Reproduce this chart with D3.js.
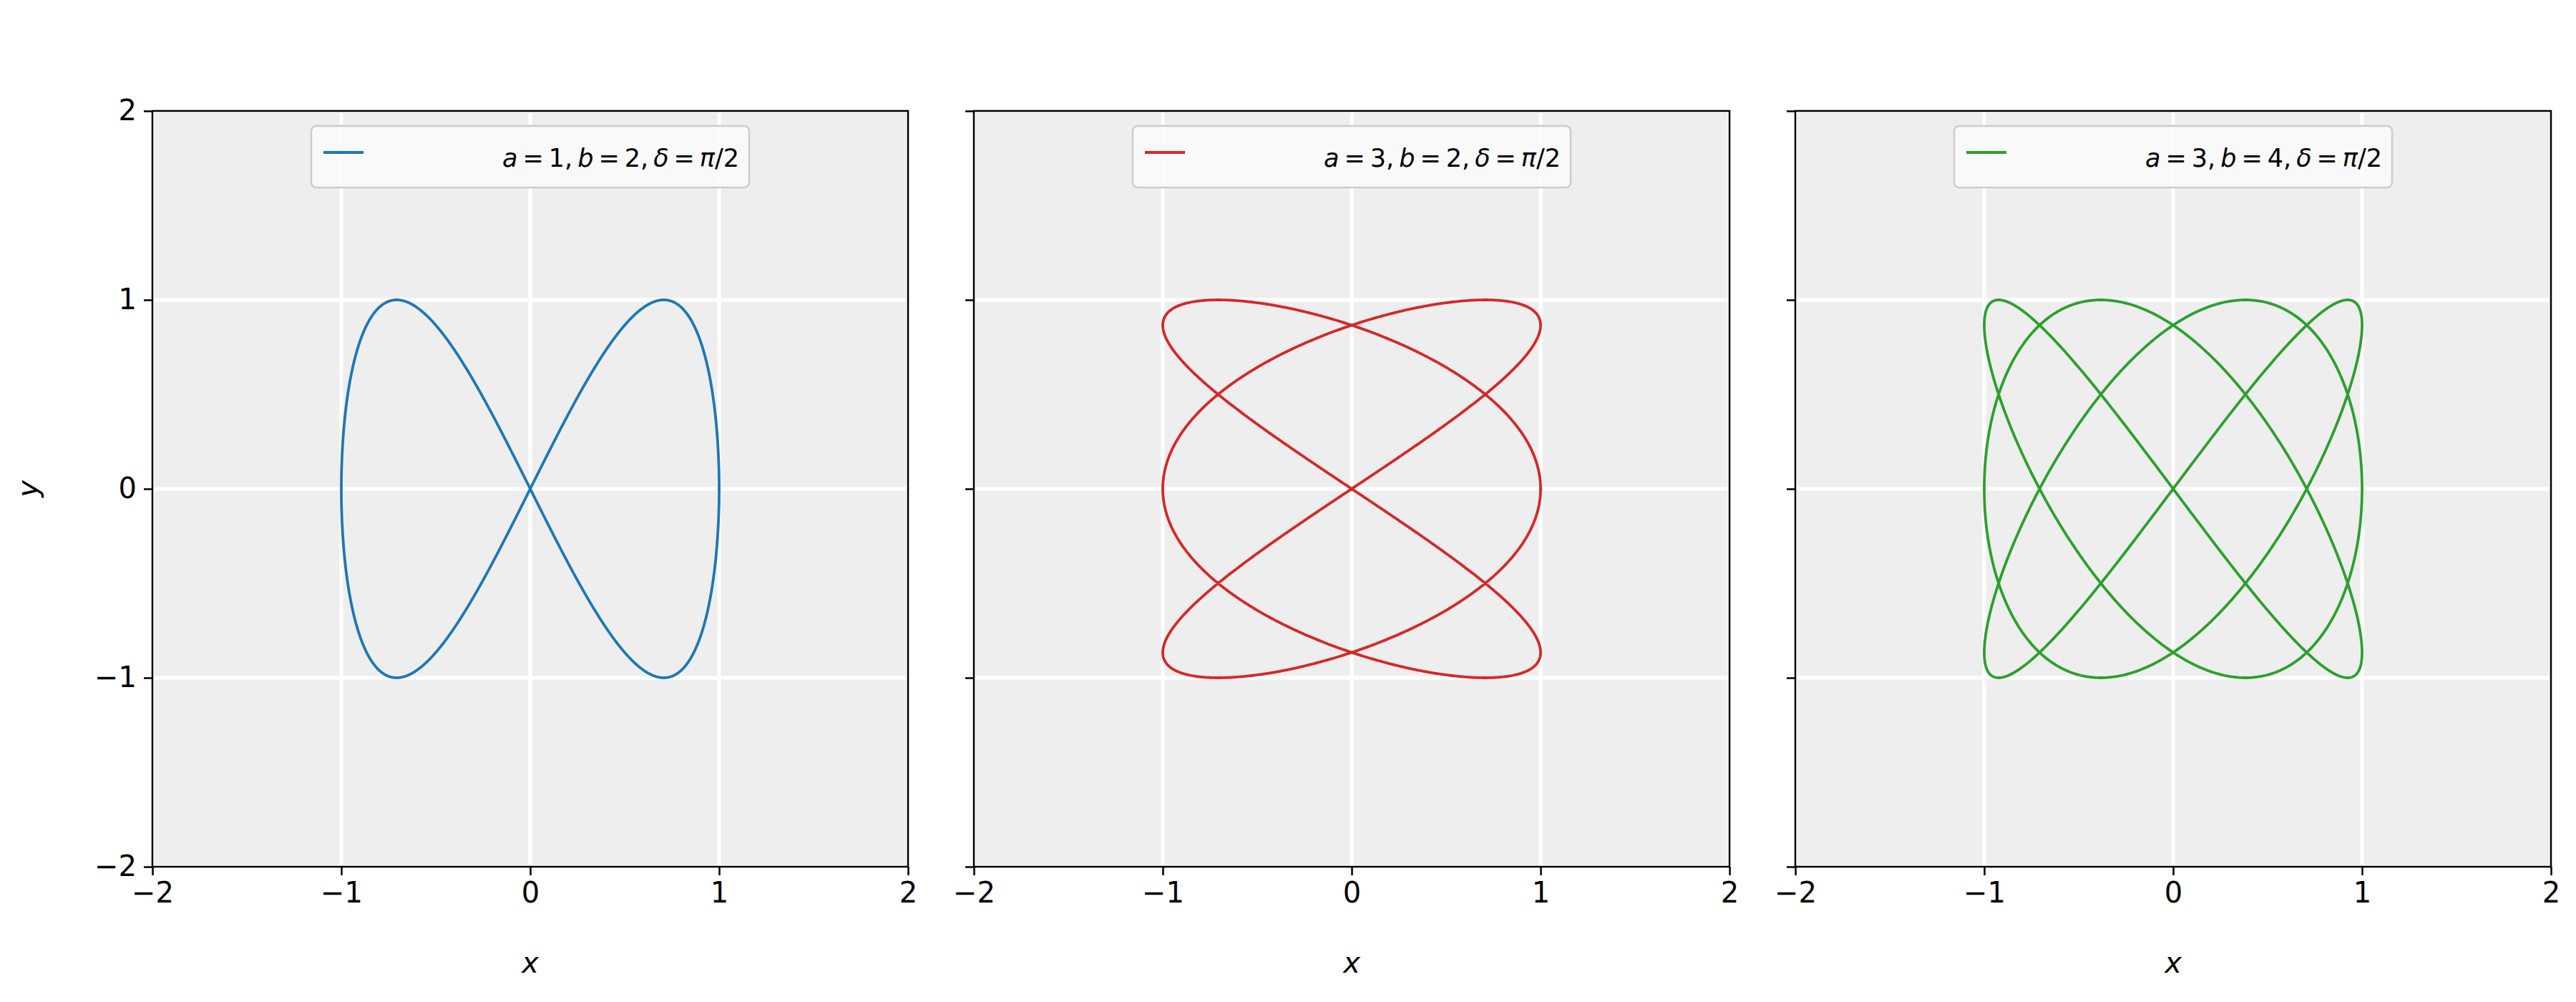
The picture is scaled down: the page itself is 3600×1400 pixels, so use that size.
<!DOCTYPE html>
<html>
<head>
<meta charset="utf-8">
<script src="https://cdn.jsdelivr.net/npm/d3@7"></script>
<style>
  body { margin: 0; background: #fff; }
  text { font-family: "DejaVu Sans", sans-serif; }
</style>
</head>
<body>
<svg class="svg"></svg>
<script>
// curve parameters per panel
const aValues = [1, 3, 3];
const bValues = [2, 2, 4];
const deltaValues = [Math.PI / 2, Math.PI / 2, Math.PI / 2];
const colors = ["#1f77b4", "#d62728", "#2ca02c"];
const tickValues = [-2, -1, 0, 1, 2];

const metrics = { width: 3600, height: 1400, top: 155, size: 1056, lefts: [213, 1361, 2509] };

const svg = d3.select(".svg").attr("width", metrics.width).attr("height", metrics.height);

const x = d3.scaleLinear().domain([-2, 2]).range([0, metrics.size]);
const y = d3.scaleLinear().domain([-2, 2]).range([metrics.size, 0]);
const fmt = d => d < 0 ? "\u2212" + Math.abs(d) : String(d);

aValues.forEach((a, i) => {
  const b = bValues[i], delta = deltaValues[i];
  const g = svg.append("g").attr("transform", `translate(${metrics.lefts[i]},${metrics.top})`);

  g.append("rect").attr("width", metrics.size).attr("height", metrics.size).attr("fill", "#eeeeee");

  // grid
  g.selectAll("line.gx").data(tickValues).join("line")
    .attr("x1", d => x(d)).attr("x2", d => x(d)).attr("y1", 0).attr("y2", metrics.size)
    .attr("stroke", "#fff").attr("stroke-width", 5);
  g.selectAll("line.gy").data(tickValues).join("line")
    .attr("y1", d => y(d)).attr("y2", d => y(d)).attr("x1", 0).attr("x2", metrics.size)
    .attr("stroke", "#fff").attr("stroke-width", 5);

  // curve
  const ts = d3.range(0, 2 * Math.PI + 0.001, 2 * Math.PI / 2000);
  const pts = ts.map(t => [Math.sin(a * t + delta), Math.sin(b * t)]);
  g.append("path").datum(pts)
    .attr("d", d3.line().x(d => x(d[0])).y(d => y(d[1])))
    .attr("fill", "none").attr("stroke", colors[i]).attr("stroke-width", 3.8);

  g.append("rect").attr("width", metrics.size).attr("height", metrics.size)
    .attr("fill", "none").attr("stroke", "#000").attr("stroke-width", 2.5);

  const xAxis = g.append("g").attr("transform", `translate(0,${metrics.size})`)
    .call(d3.axisBottom(x).tickValues(tickValues).tickFormat(fmt).tickSize(12).tickPadding(10));
  const yAxis = g.append("g")
    .call(d3.axisLeft(y).tickValues(tickValues).tickFormat(i === 0 ? fmt : () => "").tickSize(12).tickPadding(10));
  [xAxis, yAxis].forEach(ax => {
    ax.select(".domain").remove();
    ax.selectAll("line").attr("stroke-width", 2.5);
    ax.selectAll("text").attr("font-size", 40).attr("fill", "#000").style("font-family", "DejaVu Sans");
  });

  g.append("text").attr("x", metrics.size / 2).attr("y", metrics.size + 148)
    .attr("text-anchor", "middle").attr("font-size", 40).attr("font-style", "italic").text("x");
  if (i === 0) {
    g.append("text").attr("transform", `translate(-160,${metrics.size / 2}) rotate(-90)`)
      .attr("text-anchor", "middle").attr("font-size", 40).attr("font-style", "italic").text("y");
  }

  // legend
  const lg = g.append("g").attr("transform", `translate(${metrics.size / 2 - 306},21)`);
  lg.append("rect").attr("width", 612).attr("height", 86).attr("rx", 7)
    .attr("fill", "#fafafa").attr("fill-opacity", 0.85).attr("stroke", "#cccccc").attr("stroke-width", 2.5);
  lg.append("line").attr("x1", 17).attr("x2", 73).attr("y1", 37).attr("y2", 37)
    .attr("stroke", colors[i]).attr("stroke-width", 3.8);
  const tx = lg.append("text").attr("x", 608 - 10).attr("y", 57).attr("font-size", 35)
    .attr("text-anchor", "end");
  const sp = "\u2009";
  const parts = [["a", true], [`${sp}=${sp}${a},${sp}`, false], ["b", true], [`${sp}=${sp}${b},${sp}`, false],
                 ["\u03b4", true], [`${sp}=${sp}`, false], ["\u03c0", true], ["/2", false]];
  parts.forEach(([s, it]) => tx.append("tspan").attr("font-style", it ? "italic" : "normal").text(s));
});
</script>
</body>
</html>
